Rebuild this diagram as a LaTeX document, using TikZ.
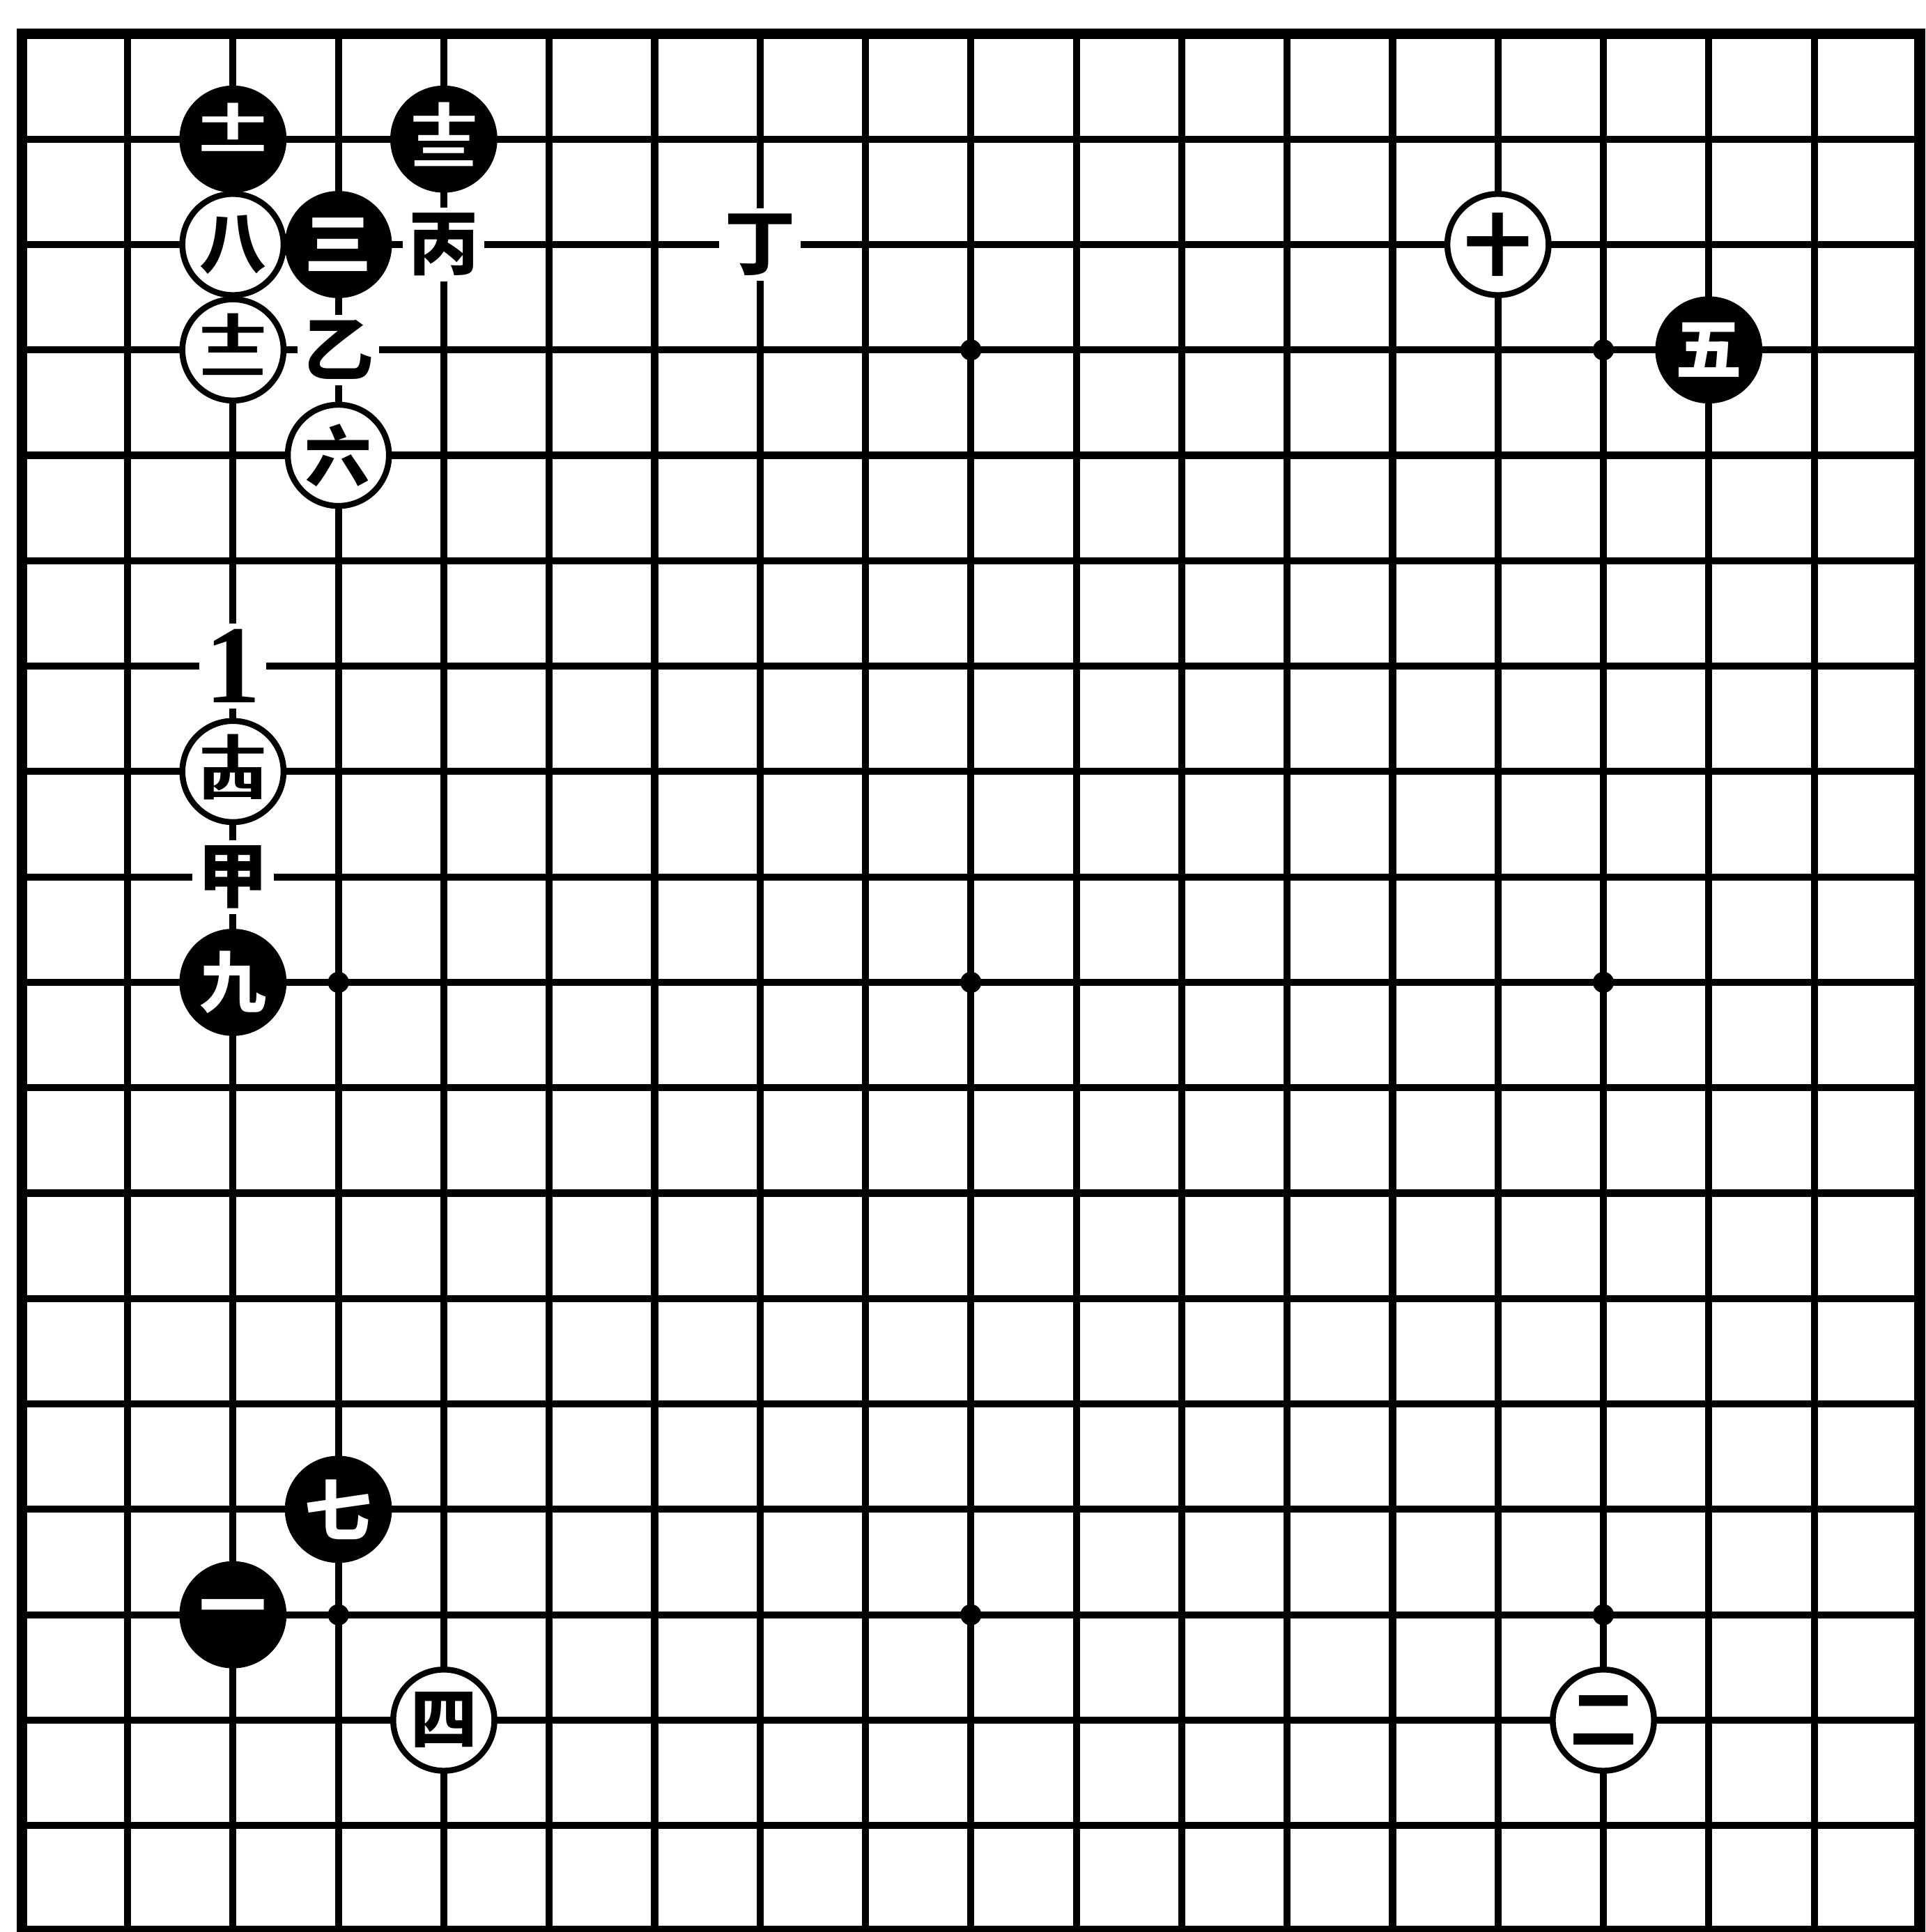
\documentclass[tikz,border=0pt]{standalone}
\usepackage{fontspec}
\usepackage{graphicx}
\newfontfamily\cjk{Noto Sans CJK SC}
\newfontfamily\digitfont{Liberation Serif}
\tikzset{
  board/.style={line width=1.9pt},
  board-edge/.style={line width=2.9pt, line join=miter},
  stone/.style={
    circle,
    line width=1.6pt,
    draw=black,
    minimum size=0.96cm,
    inner sep=0pt,
    font=\cjk\bfseries\fontsize{18}{18}\selectfont
  },
  stone-black/.style={stone, fill=black, text=white},
  stone-white/.style={stone, fill=white, text=black},
  star/.style={
    circle,
    fill=black,
    minimum size=0.2cm,
    inner sep=0pt
  },
  boardtext/.style={
    fill=white,
    inner sep=1.5pt,
    font=\cjk\bfseries\fontsize{19}{19}\selectfont
  }
}
\newcommand{\stk}[2]{%
  \scalebox{1}[0.58]{\begin{tabular}{@{}c@{}}#1\\[-0.3em]#2\end{tabular}}%
}

\begin{document}
\begin{tikzpicture}
  \useasboundingbox (-0.21,-18.01) rectangle (18.06,0.32);
  \foreach \i in {1,...,17} {
    \draw[board] (\i,0) -- (\i,-18);
    \draw[board] (0,-\i) -- (18,-\i);
  }
  \draw[board-edge] (0,0) rectangle (18,-18);
  \foreach \x in {3,9,15} {
    \foreach \y in {3,9,15} {
      \node[star] (star\x\y) at (\x,-\y) {};
    }
  }
  % stones
  \node[stone-black] (b1)  at (2,-15) {一};
  \node[stone-white] (w2)  at (15,-16) {二};
  \node[stone-black] (b3)  at (3,-2)  {三};
  \node[stone-white] (w4)  at (4,-16) {四};
  \node[stone-black] (b5)  at (16,-3) {五};
  \node[stone-white] (w6)  at (3,-4)  {六};
  \node[stone-black] (b7)  at (3,-14) {七};
  \node[stone-white] (w8)  at (2,-2)  {八};
  \node[stone-black] (b9)  at (2,-9)  {九};
  \node[stone-white] (w10) at (14,-2) {十};
  \node[stone-black] (b11) at (2,-1)  {\stk{十}{一}};
  \node[stone-white] (w12) at (2,-3)  {\stk{十}{二}};
  \node[stone-black] (b13) at (4,-1)  {\stk{十}{三}};
  \node[stone-white] (w14) at (2,-7)  {\stk{十}{四}};
  % marked points
  \node[boardtext] (jia)  at (2,-8) {甲};
  \node[boardtext] (yi)   at (3,-3) {乙};
  \node[boardtext] (bing) at (4,-2) {丙};
  \node[boardtext] (ding) at (7,-2) {丁};
  \node[boardtext, font=\digitfont\bfseries\fontsize{30}{30}\selectfont] (one) at (2,-6) {1};
\end{tikzpicture}
\end{document}
